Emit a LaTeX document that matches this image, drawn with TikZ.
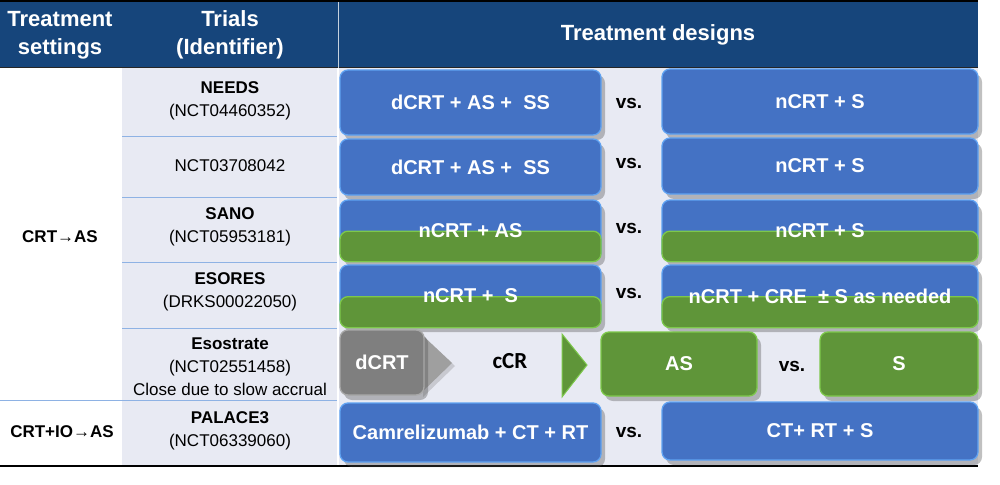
\documentclass[tikz,border=0pt]{standalone}
\usepackage{fontspec}
\setmainfont{Liberation Sans}
\newfontfamily\carl{Carlito}
\usetikzlibrary{shadows}
\definecolor{hdr}{HTML}{16457B}
\definecolor{lightbg}{HTML}{E8EAF3}
\definecolor{rowline}{HTML}{8EB2E4}
\definecolor{boxblue}{HTML}{4472C4}
\definecolor{boxblueedge}{HTML}{5FA2F2}
\definecolor{boxgreen}{HTML}{5F9539}
\definecolor{boxgreenedge}{HTML}{7DC84B}
\definecolor{boxgray}{HTML}{7F7F7F}
\definecolor{boxgrayedge}{HTML}{A8A8A8}
\begin{document}
\begin{tikzpicture}[x=1pt,y=-1pt,
  hdrtext/.style={text=white, font=\bfseries\fontsize{22}{28}\selectfont, align=center, inner sep=0},
  trialtext/.style={text=black, font=\fontsize{17}{23}\selectfont, align=center, inner sep=0},
  settext/.style={text=black, font=\bfseries\fontsize{17}{22}\selectfont, align=center, inner sep=0},
  shad/.style={drop shadow={shadow xshift=4pt, shadow yshift=-5pt, opacity=0.35, fill=black!70}},
  bluebox/.style={rectangle, rounded corners=8pt, fill=boxblue, draw=boxblueedge, line width=1.3pt, shad, inner sep=0},
  greenbox/.style={rectangle, rounded corners=8pt, fill=boxgreen, draw=boxgreenedge, line width=1.3pt, shad, inner sep=0},
  greenhalf/.style={rectangle, rounded corners=8pt, fill=boxgreen, draw=boxgreenedge, line width=1.3pt, inner sep=0},
  graybox/.style={rectangle, rounded corners=8pt, fill=boxgray, draw=boxgrayedge, line width=1.3pt, shad, inner sep=0},
  boxtext/.style={text=white, font=\bfseries\fontsize{20}{24}\selectfont, inner sep=0},
  vstext/.style={text=black, font=\bfseries\fontsize{19}{22}\selectfont, inner sep=0}
]
\useasboundingbox (0,0) rectangle (1000,484);
\fill[white] (0,0) rectangle (1000,484);
% header
\fill[hdr] (0,2) rectangle (978,68);
\draw[black, line width=1.2pt] (0,1) -- (978,1);
\draw[black!85, line width=1pt] (0,68) -- (978,68);
\draw[white!75!hdr, line width=1pt] (338,2) -- (338,68);
% body backgrounds
\fill[lightbg] (122,68.5) rectangle (337,466);
\fill[lightbg] (339,68.5) rectangle (978,466);
\foreach \yy in {136,197,262,328} \draw[rowline, line width=1pt] (122,\yy) -- (337,\yy);
\draw[rowline, line width=1pt] (0,400) -- (337,400);
\draw[black, line width=1.6pt] (0,466) -- (978,466);

% header texts
\node[hdrtext] (h1) at (60,35) {Treatment\\settings};
\node[hdrtext] (h2) at (230,35) {Trials\\(Identifier)};
\node[hdrtext] (h3) at (658,35) {Treatment designs};

% settings
\node[settext] (s1) at (60,237) {CRT→AS};
\node[settext] (s2) at (62,432) {CRT+IO→AS};

% trials
\node[trialtext] (t1) at (230,100.5) {\textbf{NEEDS}\\(NCT04460352)};
\node[trialtext] (t2) at (230,166) {NCT03708042};
\node[trialtext] (t3) at (230,227) {\textbf{SANO}\\(NCT05953181)};
\node[trialtext] (t4) at (230,292) {\textbf{ESORES}\\(DRKS00022050)};
\node[trialtext] (t5) at (230,366.5) {\textbf{Esostrate}\\(NCT02551458)\\Close due to slow accrual};
\node[trialtext] (t6) at (230,430.5) {\textbf{PALACE3}\\(NCT06339060)};

% row 1
\node[bluebox, minimum width=261pt, minimum height=65pt] (b1l) at (470.5,102.5) {};
\node[boxtext] at (b1l.center) {dCRT + AS +\ \ SS};
\node[vstext] (v1) at (629,103) {vs.};
\node[bluebox, minimum width=316pt, minimum height=65pt] (b1r) at (820,101.5) {};
\node[boxtext] at (b1r.center) {nCRT + S};

% row 2
\node[bluebox, minimum width=261pt, minimum height=56pt] (b2l) at (470.5,167) {};
\node[boxtext] at (b2l.center) {dCRT + AS +\ \ SS};
\node[vstext] (v2) at (629,163) {vs.};
\node[bluebox, minimum width=316pt, minimum height=56pt] (b2r) at (820,166) {};
\node[boxtext] at (b2r.center) {nCRT + S};

% row 3
\node[bluebox, minimum width=261pt, minimum height=61pt] (b3l) at (470.5,230.5) {};
\node[greenhalf, minimum width=261pt, minimum height=30.5pt, anchor=north] (g3l) at (b3l.center) {};
\node[boxtext] at (b3l.center) {nCRT + AS};
\node[vstext] (v3) at (629,228) {vs.};
\node[bluebox, minimum width=316pt, minimum height=61pt] (b3r) at (820,230.5) {};
\node[greenhalf, minimum width=316pt, minimum height=30.5pt, anchor=north] (g3r) at (b3r.center) {};
\node[boxtext] at (b3r.center) {nCRT + S};

% row 4
\node[bluebox, minimum width=261pt, minimum height=62pt] (b4l) at (470.5,296) {};
\node[greenhalf, minimum width=261pt, minimum height=31pt, anchor=north] (g4l) at (b4l.center) {};
\node[boxtext] at (b4l.center) {nCRT +\ \ S};
\node[vstext] (v4) at (629,293) {vs.};
\node[bluebox, minimum width=316pt, minimum height=62pt] (b4r) at (820,296) {};
\node[greenhalf, minimum width=316pt, minimum height=31pt, anchor=north] (g4r) at (b4r.center) {};
\node[boxtext] at (b4r.center) {nCRT + CRE\ \ ± S as needed};

% row 5
\fill[boxgray!75!white, drop shadow={shadow xshift=3pt, shadow yshift=-3pt, opacity=0.3}] (420,333) -- (452,363) -- (420,394) -- cycle;
\node[graybox, minimum width=84pt, minimum height=65pt] (b5a) at (382,362.5) {};
\node[boxtext] at (b5a.center) {dCRT};
\node[text=black, font=\carl\bfseries\fontsize{23}{26}\selectfont, inner sep=0] (c5) at (510,361) {cCR};
\fill[boxgreen, draw=boxgreenedge, line width=1pt] (562,334) -- (587,365) -- (562,397) -- cycle;
\node[greenbox, minimum width=156pt, minimum height=64pt] (b5b) at (679,364) {};
\node[boxtext] at (b5b.center) {AS};
\node[vstext] (v5) at (792,366) {vs.};
\node[greenbox, minimum width=158pt, minimum height=64pt] (b5c) at (899,364) {};
\node[boxtext] at (b5c.center) {S};

% row 6
\node[bluebox, minimum width=261pt, minimum height=59pt] (b6l) at (470.5,432.5) {};
\node[boxtext] at (b6l.center) {Camrelizumab + CT + RT};
\node[vstext] (v6) at (629,432) {vs.};
\node[bluebox, minimum width=316pt, minimum height=58pt] (b6r) at (820,431) {};
\node[boxtext] at (b6r.center) {CT+ RT + S};
\end{tikzpicture}
\end{document}
